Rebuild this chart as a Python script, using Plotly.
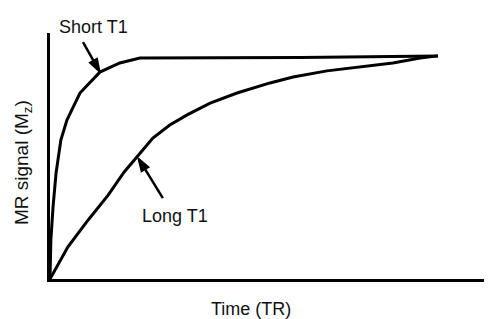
import plotly.graph_objects as go

# Time (TR) in arbitrary units 0-100, MR signal in % of max
short_t = [0, 0.2, 0.7, 1.4, 2.5, 3.9, 6.9, 11.5, 16.1, 20.7, 57.6, 89.4]
short_s = [0, 15.9, 29.3, 43.1, 56.5, 64.6, 75.6, 84.1, 87.8, 89.8, 90.0, 90.7]

long_t = [0, 4.1, 8.8, 13.4, 17.1, 20.3, 23.7, 27.6, 31.6, 36.9, 43.1, 50.7,
          56.0, 63.8, 71.4, 79.0, 85.3, 89.4]
long_s = [0, 13.0, 24.0, 34.1, 43.5, 50.4, 57.3, 62.6, 66.7, 71.5, 75.6, 79.7,
          82.1, 84.6, 86.2, 87.8, 89.8, 90.7]

labels = ["Short T1", "Long T1"]
label_pos = [(0.1002, 1.0224), (0.2880, 0.2581)]   # paper coords
arrow_tail = [(7.6, 96.3), (26.0, 32.9)]
arrow_tip = [(11.5, 84.1), (20.3, 49.2)]

FONT = "Liberation Sans, Arial, sans-serif"
INK = "#000000"

fig = go.Figure()
fig.add_trace(go.Scatter(x=short_t, y=short_s, mode="lines",
                         line=dict(color=INK, width=3), name=labels[0]))
fig.add_trace(go.Scatter(x=long_t, y=long_s, mode="lines",
                         line=dict(color=INK, width=3), name=labels[1]))

for lab, (lx, ly), (ax, ay), (tx, ty) in zip(labels, label_pos, arrow_tail, arrow_tip):
    fig.add_annotation(xref="paper", yref="paper", x=lx, y=ly, text=lab,
                       xanchor="center", yanchor="middle",
                       showarrow=False, font=dict(family=FONT, size=18, color="#111111"))
    fig.add_trace(go.Scatter(x=[ax, tx], y=[ay, ty], mode="lines+markers",
                             line=dict(color=INK, width=2.5),
                             marker=dict(symbol=["circle", "arrow"], size=[0, 14],
                                         angleref="previous", color=INK, opacity=1,
                                         line=dict(width=1.5, color=INK)),
                             hoverinfo="skip"))

fig.add_annotation(xref="paper", yref="paper", x=-0.062, y=0.4715,
                   xanchor="center", yanchor="middle",
                   text="MR signal (M<sub>z</sub>)", textangle=-90, showarrow=False,
                   font=dict(family=FONT, size=19, color="#111111"))
fig.add_annotation(xref="paper", yref="paper", x=0.463, y=-0.122,
                   xanchor="center", yanchor="middle",
                   text="Time (TR)", showarrow=False,
                   font=dict(family=FONT, size=18, color="#111111"))

axis_common = dict(showgrid=False, zeroline=False, showticklabels=False, ticks="",
                   showline=True, linecolor=INK, linewidth=3)
fig.update_xaxes(range=[0, 100], **axis_common)
fig.update_yaxes(range=[0, 100], **axis_common)

fig.update_layout(width=500, height=319, showlegend=False,
                  margin=dict(l=50, r=16, t=33, b=40),
                  paper_bgcolor="white", plot_bgcolor="white")

fig.write_html("out.html")
